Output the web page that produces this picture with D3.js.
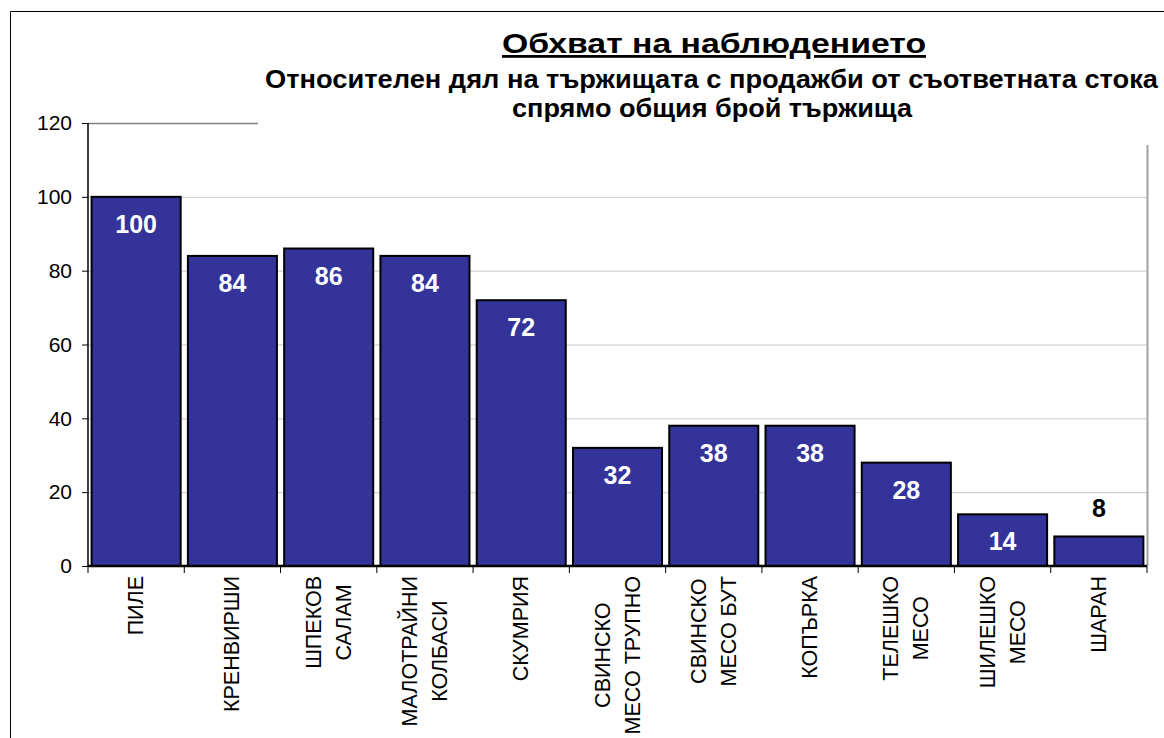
<!DOCTYPE html>
<html>
<head>
<meta charset="utf-8">
<script src="https://cdn.jsdelivr.net/npm/d3@7"></script>
<style>
  body { margin: 0; background: #fff; }
  svg { font-family: "Liberation Sans", Arial, sans-serif; }
</style>
</head>
<body>
<div id="chart"></div>
<script>
const categories = [
    ["ПИЛЕ"],
    ["КРЕНВИРШИ"],
    ["ШПЕКОВ", "САЛАМ"],
    ["МАЛОТРАЙНИ", "КОЛБАСИ"],
    ["СКУМРИЯ"],
    ["СВИНСКО", "МЕСО ТРУПНО"],
    ["СВИНСКО", "МЕСО БУТ"],
    ["КОПЪРКА"],
    ["ТЕЛЕШКО", "МЕСО"],
    ["ШИЛЕШКО", "МЕСО"],
    ["ШАРАН"]
];
const values = [100, 84, 86, 84, 72, 32, 38, 38, 28, 14, 8];
const yTicks = [0, 20, 40, 60, 80, 100, 120];

const title = "Обхват на наблюдението";
const subtitle = ["Относителен дял на тържищата с продажби от съответната стока", "спрямо общия брой тържища"];

const W = 1164, H = 738;
const plotLeft = 88, plotRight = 1147, plotTop = 123, plotBottom = 566;

const svg = d3.select("#chart").append("svg")
    .attr("width", W)
    .attr("height", H);

// outer frame
svg.append("path")
    .attr("d", `M10.5,${H} V11.5 H${W}`)
    .attr("fill", "none")
    .attr("stroke", "#000")
    .attr("stroke-width", 1);

const keys = categories.map((c, i) => i);

const x = d3.scaleBand()
    .domain(keys)
    .range([plotLeft, plotRight])
    .paddingInner(0.075)
    .paddingOuter(0.0375);

const xb = d3.scaleBand().domain(keys).range([plotLeft, plotRight]);

const y = d3.scaleLinear()
    .domain([0, 120])
    .range([plotBottom, plotTop]);

// gridlines
svg.append("g")
    .selectAll("line")
    .data(yTicks.filter(d => d > 0 && d < 120))
    .enter()
    .append("line")
    .attr("x1", plotLeft).attr("x2", plotRight)
    .attr("y1", d => y(d) + 0.5).attr("y2", d => y(d) + 0.5)
    .attr("stroke", "#c8c8c8")
    .attr("stroke-width", 1);

// top gridline (partly hidden by the title)
svg.append("line")
    .attr("x1", plotLeft).attr("x2", 258)
    .attr("y1", y(120) + 0.5).attr("y2", y(120) + 0.5)
    .attr("stroke", "#808080")
    .attr("stroke-width", 1.5);

// right plot border
svg.append("line")
    .attr("x1", plotRight + 0.5).attr("x2", plotRight + 0.5)
    .attr("y1", 145).attr("y2", plotBottom)
    .attr("stroke", "#a0a0a0")
    .attr("stroke-width", 2);

// bars
svg.append("g")
    .selectAll("rect")
    .data(values)
    .enter()
    .append("rect")
    .attr("x", (d, i) => x(i))
    .attr("y", d => y(d))
    .attr("width", x.bandwidth())
    .attr("height", d => plotBottom - y(d))
    .attr("fill", "#333399")
    .attr("stroke", "#000")
    .attr("stroke-width", 2);

// value labels
svg.append("g")
    .selectAll("text")
    .data(values)
    .enter()
    .append("text")
    .attr("x", (d, i) => x(i) + x.bandwidth() / 2)
    .attr("y", d => d < 10 ? y(d) - 19 : y(d) + 36)
    .attr("text-anchor", "middle")
    .attr("font-size", "25px")
    .attr("font-weight", "bold")
    .attr("fill", d => d < 10 ? "#000" : "#fff")
    .text(d => d);

// y axis
const yAxis = svg.append("g")
    .attr("transform", `translate(${plotLeft},0)`)
    .call(d3.axisLeft(y).tickValues(yTicks).tickSize(6).tickPadding(10));
yAxis.select(".domain").attr("stroke", "#000").attr("stroke-width", 1.5).attr("d", `M0,${plotTop}V${plotBottom}`);
yAxis.selectAll(".tick line").attr("stroke", "#000");
yAxis.selectAll(".tick text")
    .attr("font-family", "Liberation Sans, Arial, sans-serif")
    .attr("font-size", "21px")
    .attr("fill", "#000");

// x axis line and ticks
svg.append("line")
    .attr("x1", plotLeft).attr("x2", plotRight)
    .attr("y1", plotBottom).attr("y2", plotBottom)
    .attr("stroke", "#000")
    .attr("stroke-width", 2.5);

svg.append("g")
    .selectAll("line")
    .data(keys.concat([keys.length]))
    .enter()
    .append("line")
    .attr("x1", d => plotLeft + d * xb.bandwidth())
    .attr("x2", d => plotLeft + d * xb.bandwidth())
    .attr("y1", plotBottom).attr("y2", plotBottom + 7)
    .attr("stroke", "#000")
    .attr("stroke-width", 1);

// category labels, rotated, lines centred on each other
const lineH = 30;
const labels = svg.append("g")
    .selectAll("g")
    .data(categories)
    .enter()
    .append("g");

labels.each(function (lines, i) {
    const g = d3.select(this);
    const texts = g.selectAll("text")
        .data(lines)
        .enter()
        .append("text")
        .attr("text-anchor", "middle")
        .attr("dominant-baseline", "central")
        .attr("font-size", "21.5px")
        .attr("fill", "#000")
        .attr("x", 0)
        .attr("y", (d, j) => (j - (lines.length - 1) / 2) * lineH)
        .text(d => d);
    let maxLen = 0;
    texts.each(function () { maxLen = Math.max(maxLen, this.getComputedTextLength()); });
    const cx = xb(i) + xb.bandwidth() / 2;
    g.attr("transform", `translate(${cx},${576 + maxLen / 2}) rotate(-90)`);
});

// titles
const tx = 714;
svg.append("text")
    .attr("x", tx).attr("y", 53)
    .attr("text-anchor", "middle")
    .attr("font-size", "28px")
    .attr("font-weight", "bold")
    .attr("text-decoration", "underline")
    .attr("textLength", 424)
    .attr("lengthAdjust", "spacingAndGlyphs")
    .text(title);

const subWidths = [893, 400];
svg.selectAll(".sub")
    .data(subtitle)
    .enter()
    .append("text")
    .attr("class", "sub")
    .attr("x", (d, i) => i === 0 ? 711.5 : 712)
    .attr("y", (d, i) => 88 + i * 29)
    .attr("text-anchor", "middle")
    .attr("font-size", "25px")
    .attr("font-weight", "bold")
    .attr("textLength", (d, i) => subWidths[i])
    .attr("lengthAdjust", "spacingAndGlyphs")
    .text(d => d);
</script>
</body>
</html>
